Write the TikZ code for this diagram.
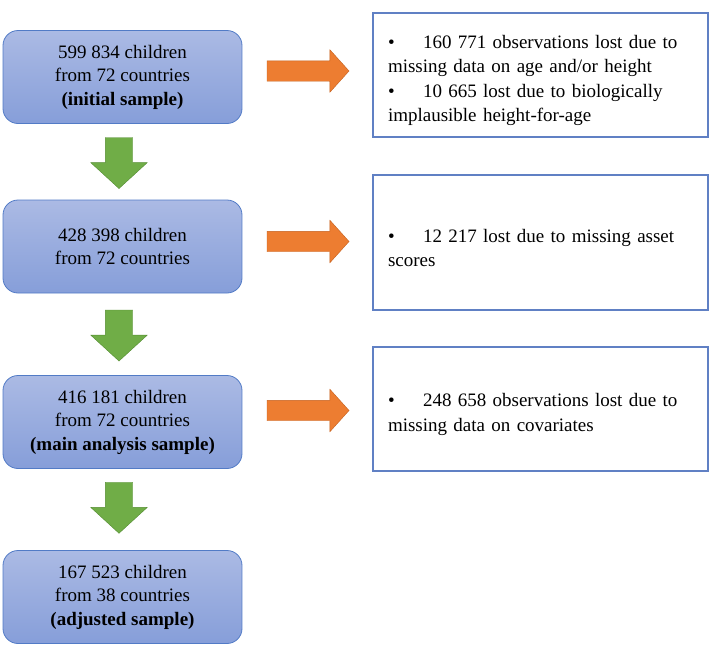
\documentclass[tikz,border=0pt]{standalone}
\usepackage{fontspec}
\setmainfont{Liberation Serif}
\usetikzlibrary{shapes.arrows,calc}

\definecolor{boxtop}{RGB}{171,186,228}
\definecolor{boxbottom}{RGB}{134,158,217}
\definecolor{boxline}{RGB}{82,123,198}
\definecolor{noteline}{RGB}{96,128,196}
\definecolor{greenfill}{RGB}{112,173,71}
\definecolor{greenline}{RGB}{84,140,50}
\definecolor{orangefill}{RGB}{237,125,49}
\definecolor{orangeline}{RGB}{196,96,30}

\newcommand{\lostitem}[1]{\par\raggedright\hangindent=35pt\hangafter=1\noindent\makebox[35pt][l]{\textbullet}#1}

\begin{document}
\begin{tikzpicture}[
    x=1pt, y=-1pt,
    text centered,
	sample/.style={
	  rectangle,
	  rounded corners=15pt,
	  minimum width=239pt,
	  minimum height=93pt,
	  align=center,
	  thick,
	  draw=boxline,
	  top color=boxtop,
	  bottom color=boxbottom,
	  font=\fontsize{19}{23.5}\selectfont
	},
	loss/.style={
	  rectangle,
	  text width=305pt,
	  minimum width=335pt,
	  inner xsep=15pt,
	  draw=noteline,
	  line width=1.1pt,
	  align=left,
	  font=\fontsize{19}{24.5}\selectfont
	},
	downarrow/.style={
	  single arrow,
	  shape border rotate=270,
	  minimum height=51pt,
	  minimum width=56pt,
	  single arrow head extend=14.5pt,
	  single arrow tip angle=95,
	  inner sep=13.5pt,
	  fill=greenfill,
	  draw=greenline
	},
	rightarrow/.style={
	  single arrow,
	  minimum height=82pt,
	  minimum width=42pt,
	  single arrow head extend=11pt,
	  single arrow tip angle=96,
	  inner sep=10pt,
	  fill=orangefill,
	  draw=orangeline
	}
	]
	\useasboundingbox (0,0) rectangle (713,646);
	% left column: samples
	\node at (122.5, 77) [sample] (initial) {599 834 children\\from 72 countries\\\textbf{(initial sample)}};
	\node at (122.5, 246.5) [sample] (age) {428 398 children\\from 72 countries};
	\node at (122.5, 422) [sample] (main) {416 181 children\\from 72 countries\\\textbf{(main analysis sample)}};
	\node at (122.5, 597) [sample] (adjusted) {167 523 children\\from 38 countries\\\textbf{(adjusted sample)}};
	% right column: losses
	\node at (540.5, 75) [loss, minimum height=124pt] (lost1) {\lostitem{160 771 observations lost due to\\missing data on age and/or height}\lostitem{10 665 lost due to biologically\\implausible height-for-age}};
	\node at (540.5, 242.5) [loss, minimum height=135pt] (lost2) {\lostitem{12 217 lost due to missing asset\\scores}};
	\node at (540.5, 409) [loss, minimum height=124pt] (lost3) {\lostitem{248 658 observations lost due to\\missing data on covariates}};
	% arrows
	\node at ($(initial.south)!0.5!(age.north)+(-3.5,-5)$) [downarrow] (down1) {};
	\node at ($(age.south)!0.5!(main.north)+(-3.5,-5)$) [downarrow] (down2) {};
	\node at ($(main.south)!0.5!(adjusted.north)+(-3.5,-8)$) [downarrow] (down3) {};
	\node at ($(initial.east)!0.5!(lost1.west)+(-4,-5)$) [rightarrow] (right1) {};
	\node at ($(age.east)!0.5!(lost2.west)+(-4,-3)$) [rightarrow] (right2) {};
	\node at ($(main.east)!0.5!(lost3.west)+(-4,-5)$) [rightarrow] (right3) {};
  \end{tikzpicture}
\end{document}
